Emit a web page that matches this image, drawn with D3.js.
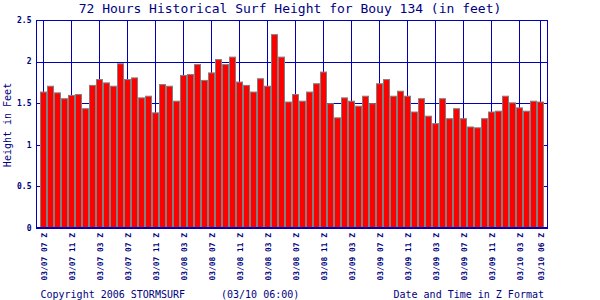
<!DOCTYPE html>
<html>
<head>
<meta charset="utf-8">
<script src="https://cdn.jsdelivr.net/npm/d3@7"></script>
<style>
  html, body { margin: 0; padding: 0; background: #fff; }
  svg { display: block; }
  text { font-family: "DejaVu Sans Mono", "Liberation Mono", monospace; fill: #000080; }
</style>
</head>
<body>
<svg id="chart" width="600" height="300"></svg>
<script>
// ---- Data ----
const titleText = "72 Hours Historical Surf Height for Bouy 134 (in feet)";
const yAxisTitle = "Height in Feet";
const xAxisTitle = "Date and Time in Z Format";
const copyrightText = "Copyright 2006 STORMSURF";
const stampText = "(03/10 06:00)";

// Hourly surf heights (feet), 72 bars, oldest first
const heights = [
  1.64, 1.71, 1.63, 1.56, 1.60, 1.61, 1.44, 1.72, 1.79, 1.75,
  1.71, 1.98, 1.79, 1.81, 1.57, 1.59, 1.39, 1.73, 1.71, 1.53,
  1.84, 1.85, 1.97, 1.78, 1.87, 2.03, 1.97, 2.06, 1.76, 1.72,
  1.64, 1.80, 1.71, 2.33, 2.06, 1.52, 1.61, 1.53, 1.64, 1.74,
  1.88, 1.50, 1.33, 1.57, 1.53, 1.47, 1.59, 1.50, 1.74, 1.79,
  1.59, 1.65, 1.59, 1.40, 1.56, 1.35, 1.26, 1.56, 1.32, 1.44,
  1.32, 1.22, 1.21, 1.32, 1.40, 1.41, 1.59, 1.51, 1.45, 1.41,
  1.53, 1.52
];

// Tick positions (bar number) and their labels
const tickBars = [1, 5, 9, 13, 17, 21, 25, 29, 33, 37, 41, 45, 49, 53, 57, 61, 65, 69, 72];
const tickLabels = [
  "03/07 07 Z", "03/07 11 Z", "03/07 03 Z", "03/07 07 Z", "03/07 11 Z",
  "03/08 03 Z", "03/08 07 Z", "03/08 11 Z", "03/08 03 Z", "03/08 07 Z",
  "03/08 11 Z", "03/09 03 Z", "03/09 07 Z", "03/09 11 Z", "03/09 03 Z",
  "03/09 07 Z", "03/09 11 Z", "03/10 03 Z", "03/10 06 Z"
];
const yTicks = [0, 0.5, 1, 1.5, 2, 2.5];
const yTickLabels = ["0", "0.5", "1", "1.5", "2", "2.5"];

// ---- Drawing ----
(function () {
const svg = d3.select("#chart");
const pLeft = 36.5, pRight = 547.5, pTop = 20, pBottom = 228;

const x = d3.scaleLinear().domain([0, 73]).range([pLeft, pRight]);
const y = d3.scaleLinear().domain([0, 2.5]).range([pBottom, pTop]);

const gridColor = "#0000bb";

svg.append("rect").attr("x", pLeft).attr("y", pTop)
  .attr("width", pRight - pLeft).attr("height", pBottom - pTop).attr("fill", "#fff");

// horizontal grid lines
svg.append("g").selectAll("line").data(yTicks.filter(d => d > 0 && d < 2.5)).join("line")
  .attr("x1", pLeft).attr("x2", pRight)
  .attr("y1", d => Math.round(y(d)) + 0.5).attr("y2", d => Math.round(y(d)) + 0.5)
  .attr("stroke", gridColor).attr("stroke-width", 1);

// vertical grid lines
svg.append("g").selectAll("line").data(tickBars).join("line")
  .attr("x1", d => Math.floor(x(d)) + 0.5).attr("x2", d => Math.floor(x(d)) + 0.5)
  .attr("y1", pTop).attr("y2", pBottom)
  .attr("stroke", gridColor).attr("stroke-width", 1);

// bars
svg.append("g").selectAll("rect").data(heights).join("rect")
  .attr("x", (d, i) => x(i + 1) - 3)
  .attr("width", 6)
  .attr("y", d => y(d) + 0.5)
  .attr("height", d => y(0) - y(d))
  .attr("fill", "#ff0000")
  .attr("stroke", "#808080")
  .attr("stroke-width", 1);

// plot frame
svg.append("rect").attr("x", pLeft).attr("y", pTop + 0.5)
  .attr("width", pRight - pLeft).attr("height", pBottom - pTop)
  .attr("fill", "none").attr("stroke", gridColor).attr("stroke-width", 1);
svg.append("line").attr("x1", pLeft).attr("x2", pRight + 0.5)
  .attr("y1", pBottom).attr("y2", pBottom)
  .attr("stroke", gridColor).attr("stroke-width", 2);

// y tick labels
svg.append("g").selectAll("text").data(yTicks).join("text")
  .attr("x", 31.5)
  .attr("y", d => y(d) + 2.8)
  .attr("text-anchor", "end")
  .attr("font-size", "8px")
  .attr("font-weight", "bold")
  .text((d, i) => yTickLabels[i]);

// x tick labels (rotated)
svg.append("g").selectAll("text").data(tickBars).join("text")
  .attr("transform", d => `translate(${x(d) + 3},233) rotate(-90)`)
  .attr("text-anchor", "end")
  .attr("font-size", "7.9px")
  .attr("font-weight", "bold")
  .text((d, i) => tickLabels[i]);

// title
svg.append("text").attr("x", 290).attr("y", 13)
  .attr("text-anchor", "middle").attr("font-size", "13px")
  .text(titleText);

// y axis title
svg.append("text").attr("transform", "translate(10.6,125) rotate(-90)")
  .attr("text-anchor", "middle").attr("font-size", "10px")
  .text(yAxisTitle);

// bottom texts
svg.append("text").attr("x", 40.5).attr("y", 298).attr("font-size", "10px").text(copyrightText);
svg.append("text").attr("x", 221).attr("y", 298).attr("font-size", "10px").text(stampText);
svg.append("text").attr("x", 544).attr("y", 298).attr("text-anchor", "end")
  .attr("font-size", "10px").text(xAxisTitle);
})();
</script>
</body>
</html>
